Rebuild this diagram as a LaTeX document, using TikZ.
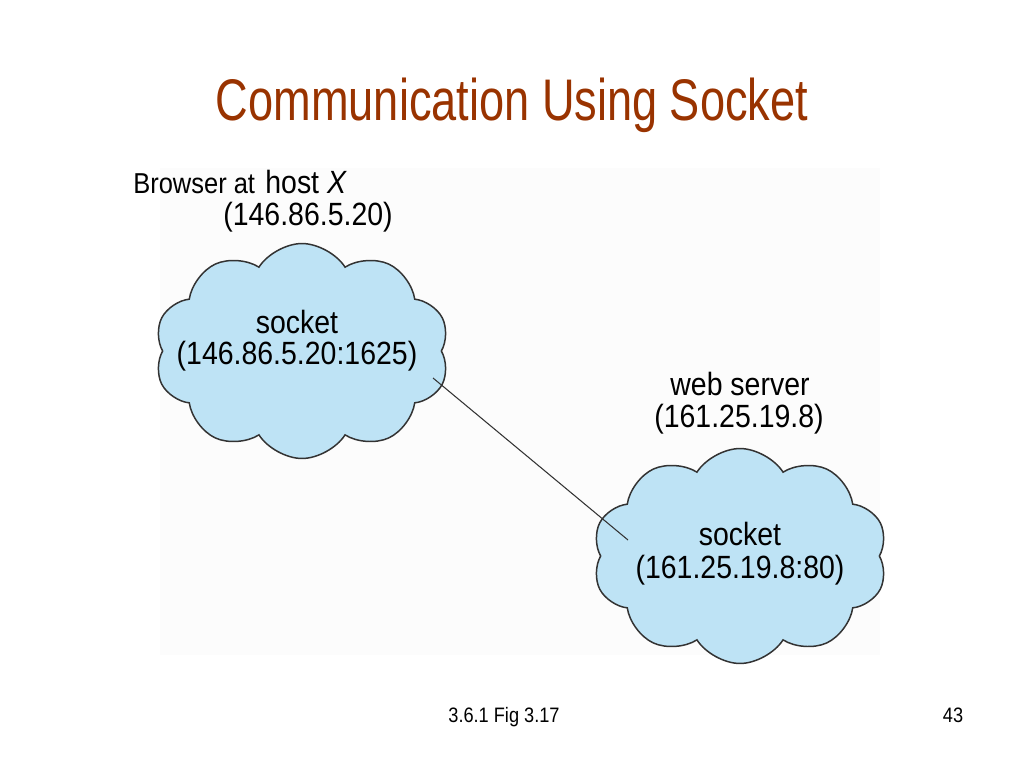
\documentclass[tikz,border=0pt]{standalone}
\usepackage{graphicx}
\usepackage{fontspec}
\setmainfont{Liberation Sans}
\usetikzlibrary{shapes.symbols}
\definecolor{titlebrown}{RGB}{153,51,0}
\definecolor{cloudblue}{RGB}{190,227,245}
\newcommand{\tallx}[2][1.13]{\scalebox{1}[#1]{#2}}

\begin{document}
\begin{tikzpicture}[x=0.02cm, y=-0.02cm,
  netcloud/.style={cloud, cloud puffs=10, cloud puff arc=115, aspect=1.4,
    draw=black!80, line width=0.85pt, fill=cloudblue, inner sep=0pt,
    minimum width=5.9cm, minimum height=4.3cm},
  figtext/.style={font=\fontsize{16.2}{19.3}\selectfont, anchor=base, inner sep=0pt},
  wire/.style={draw=black!80, line width=0.6pt}]
  \useasboundingbox (0,0) rectangle (1024,768);
  \fill[black!1] (160,168) rectangle (880,655);

  \node[titlebrown, font=\fontsize{25.7}{30}\selectfont, anchor=base, inner sep=0pt]
    (title) at (512,120) {\tallx[1.3]{Communication Using Socket}};

  % client side
  \node[font=\fontsize{14.5}{17}\selectfont, anchor=base west, inner sep=0pt]
    (browser) at (133,193) {\tallx{Browser at}};
  \node[figtext, anchor=base west] (host) at (265,193) {\tallx{host \textit{X}}};
  \node[figtext] (hostip) at (308,225) {\tallx{(146.86.5.20)}};
  \node[netcloud] (cloudA) at (302,351) {};
  \node[figtext] (sockA) at (297,333) {\tallx{socket}};
  \node[figtext] (sockAip) at (297,364) {\tallx{(146.86.5.20:1625)}};

  % server side
  \node[figtext] (server) at (740,395) {\tallx{web server}};
  \node[figtext] (serverip) at (739,427) {\tallx{(161.25.19.8)}};
  \node[netcloud] (cloudB) at (740,556) {};
  \node[figtext] (sockB) at (740,545) {\tallx{socket}};
  \node[figtext] (sockBip) at (740,578) {\tallx{(161.25.19.8:80)}};

  \coordinate (endA) at (433,378);
  \coordinate (endB) at (628,540);
  \draw[wire] (endA) -- (endB);

  \node[font=\fontsize{10.35}{12}\selectfont, anchor=base, inner sep=0pt]
    (figref) at (504,722) {\tallx[1.15]{3.6.1 Fig 3.17}};
  \node[font=\fontsize{10.35}{12}\selectfont, anchor=base, inner sep=0pt]
    (pageno) at (953,722) {\tallx[1.15]{43}};
\end{tikzpicture}
\end{document}
